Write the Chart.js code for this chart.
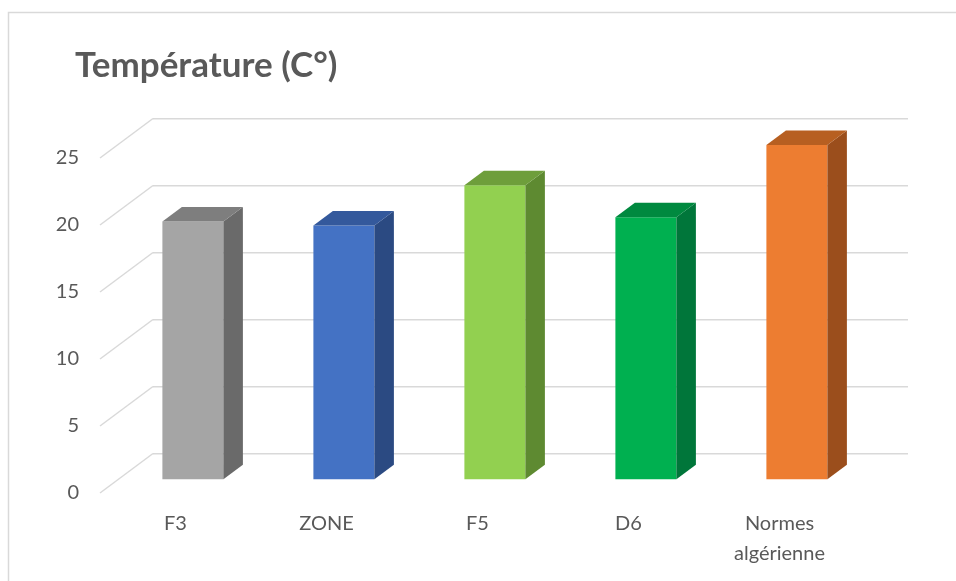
<!DOCTYPE html>
<html>
<head>
<meta charset="utf-8">
<title>Température (C°)</title>
<script src="https://cdn.jsdelivr.net/npm/chart.js@4.4.1/dist/chart.umd.min.js"></script>
<style>
  html, body { margin: 0; padding: 0; background: #ffffff; }
  #wrap { width: 956px; height: 581px; }
</style>
</head>
<body>
<div id="wrap"><canvas id="chart" width="956" height="581"></canvas></div>
<script>
// Sites and measured temperatures (°C)
const categories = ['F3', 'ZONE', 'F5', 'D6', ['Normes', 'algérienne']];
const temperatures = [19.3, 19.0, 22.0, 19.6, 25];
const yTickStep = 5;
const yMax = 25;
const chartTitle = 'Température (C°)';

// Face colours of each block: front, right side, top
const frontColors = ['#A5A5A5', '#4472C4', '#92D050', '#00B050', '#ED7D31'];
const sideColors  = ['#6A6A6A', '#2B4A82', '#5E8A31', '#00763A', '#9B4E1C'];
const topColors   = ['#7E7E7E', '#34599C', '#6E9E3B', '#00893F', '#B75F21'];

// Oblique projection offsets (pixels)
const floorEdge = { dx: -53, dy: 39.5 };   // back wall -> front edge of floor
const barPlane  = { dx: -35.6, dy: 26.5 }; // back wall -> front face of blocks
const barDepth  = { dx: 19.5, dy: -14.5 }; // front face -> back face of a block

const TEXT = '#595959';
const GRID = '#d9d9d9';

const depthPlugin = {
  id: 'depth3d',
  beforeDraw(chart) {
    const ctx = chart.ctx;
    ctx.save();
    ctx.fillStyle = '#ffffff';
    ctx.fillRect(0, 0, chart.width, chart.height);
    ctx.strokeStyle = '#d9d9d9';
    ctx.lineWidth = 1.5;
    ctx.strokeRect(8.5, 12.5, chart.width + 50, chart.height + 50);
    // chart title, left aligned with the frame content
    ctx.fillStyle = TEXT;
    ctx.font = 'bold 35px Lato';
    ctx.textBaseline = 'alphabetic';
    ctx.textAlign = 'left';
    ctx.fillText(chartTitle, 75, 77);
    ctx.restore();
  },
  beforeDatasetsDraw(chart) {
    const ctx = chart.ctx;
    const y = chart.scales.y;
    const left = chart.chartArea.left;
    ctx.save();
    ctx.strokeStyle = GRID;
    ctx.lineWidth = 1.5;
    y.ticks.forEach(t => {
      const py = y.getPixelForValue(t.value);
      ctx.beginPath();
      ctx.moveTo(left, py);
      ctx.lineTo(left + floorEdge.dx, py + floorEdge.dy);
      ctx.stroke();
    });
    ctx.restore();
    ctx.save();
    ctx.translate(barPlane.dx, barPlane.dy);
  },
  afterDatasetsDraw(chart) {
    const ctx = chart.ctx;
    const meta = chart.getDatasetMeta(0);
    meta.data.forEach((bar, i) => {
      const p = bar.getProps(['x', 'y', 'base', 'width'], true);
      const l = p.x - p.width / 2, r = p.x + p.width / 2;
      const top = p.y, bottom = p.base;
      // right side face
      ctx.fillStyle = sideColors[i];
      ctx.beginPath();
      ctx.moveTo(r, top);
      ctx.lineTo(r + barDepth.dx, top + barDepth.dy);
      ctx.lineTo(r + barDepth.dx, bottom + barDepth.dy);
      ctx.lineTo(r, bottom);
      ctx.closePath();
      ctx.fill();
      // top face
      ctx.fillStyle = topColors[i];
      ctx.beginPath();
      ctx.moveTo(l, top);
      ctx.lineTo(l + barDepth.dx, top + barDepth.dy);
      ctx.lineTo(r + barDepth.dx, top + barDepth.dy);
      ctx.lineTo(r, top);
      ctx.closePath();
      ctx.fill();
    });
    ctx.restore();
  }
};

new Chart(document.getElementById('chart'), {
  type: 'bar',
  data: {
    labels: categories,
    datasets: [{
      data: temperatures,
      backgroundColor: frontColors,
      borderWidth: 0,
      barPercentage: 0.404,
      categoryPercentage: 1.0,
      clip: false
    }]
  },
  plugins: [depthPlugin],
  options: {
    responsive: false,
    animation: false,
    events: [],
    layout: { padding: { top: 118.5, left: 0, right: 48, bottom: 0 } },
    plugins: {
      legend: { display: false },
      tooltip: { enabled: false },
      title: { display: false }
    },
    scales: {
      x: {
        grid: { display: false, drawTicks: false },
        border: { display: false },
        ticks: {
          color: TEXT,
          font: { family: 'Lato', size: 20, lineHeight: 1.5 },
          padding: 55,
          labelOffset: floorEdge.dx,
          maxRotation: 0,
          autoSkip: false
        },
        afterFit(s) { s.height = 127.5; }
      },
      y: {
        min: 0,
        max: yMax,
        grid: { color: GRID, lineWidth: 1.5, drawTicks: false },
        border: { display: false },
        ticks: {
          stepSize: yTickStep,
          color: TEXT,
          font: { family: 'Lato', size: 20 },
          padding: 74,
          labelOffset: floorEdge.dy
        },
        afterFit(s) { s.width = 153; }
      }
    }
  }
});
</script>
</body>
</html>
